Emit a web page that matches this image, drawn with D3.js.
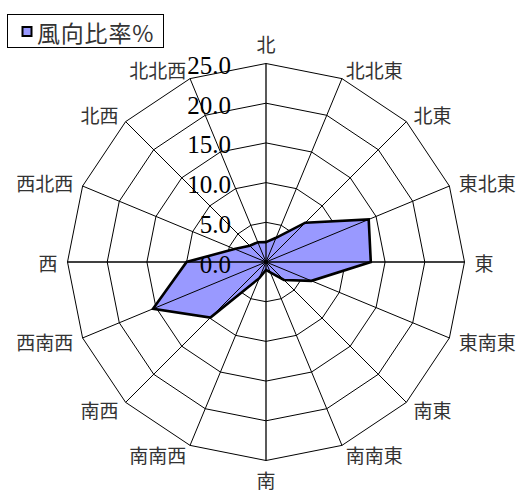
<!DOCTYPE html>
<html>
<head>
<meta charset="utf-8">
<script src="https://cdn.jsdelivr.net/npm/d3@7"></script>
<style>
  html, body { margin: 0; padding: 0; background: #fff; }
  svg { display: block; }
</style>
</head>
<body>
<svg id="chart" width="523" height="492"></svg>
<script>
// Wind direction share (%) for the 16 compass points, clockwise from north
const directions = ["北", "北北東", "北東", "東北東", "東", "東南東", "南東", "南南東",
                    "南", "南南西", "南西", "西南西", "西", "西北西", "北西", "北北西"];
const windShare = [2.5, 3.3, 7.0, 14.0, 13.2, 6.2, 3.2, 1.4,
                   1.0, 2.2, 9.9, 15.4, 10.0, 4.3, 2.9, 2.7];
const tickValues = [0, 5, 10, 15, 20, 25];
const seriesName = "風向比率%";

const width = 523, height = 492;
const cx = 266, cy = 262;
const fillColor = "#9999FF";

const svg = d3.select("#chart");

const r = d3.scaleLinear().domain([0, 25]).range([0, 198.5]);
const angle = d3.scaleLinear().domain([0, directions.length]).range([0, 2 * Math.PI]);

const pt = (i, v) => {
  const a = angle(i);
  return [cx + r(v) * Math.sin(a), cy - r(v) * Math.cos(a)];
};

const g = svg.append("g");

// Concentric polygon gridlines
const ringLine = d3.line();
g.append("g").selectAll("path")
  .data(tickValues.filter(v => v > 0))
  .join("path")
  .attr("d", v => ringLine(directions.map((d, i) => pt(i, v))) + "Z")
  .attr("fill", "none")
  .attr("stroke", "#000")
  .attr("stroke-width", 1);

// Data polygon
g.append("path")
  .datum(windShare)
  .attr("d", vals => d3.line()(vals.map((v, i) => pt(i, v))) + "Z")
  .attr("fill", fillColor)
  .attr("stroke", "#000")
  .attr("stroke-width", 2.6)
  .attr("stroke-linejoin", "miter");

// Spokes
g.append("g").selectAll("line")
  .data(directions)
  .join("line")
  .attr("x1", cx).attr("y1", cy)
  .attr("x2", (d, i) => pt(i, 25)[0])
  .attr("y2", (d, i) => pt(i, 25)[1])
  .attr("stroke", "#000")
  .attr("stroke-width", (d, i) => (i % 4 === 0 ? 1.3 : 1));

// Direction labels
const labelR = r(25) + 10;
g.append("g").selectAll("text")
  .data(directions)
  .join("text")
  .attr("x", (d, i) => cx + labelR * Math.sin(angle(i)))
  .attr("y", (d, i) => {
    const s = Math.sin(angle(i)), c = Math.cos(angle(i));
    const y = cy - labelR * c;
    if (Math.abs(s) < 1e-6) return c > 0 ? y - 10 : y + 9;
    return y;
  })
  .attr("text-anchor", (d, i) => {
    const s = Math.sin(angle(i));
    return Math.abs(s) < 1e-6 ? "middle" : (s > 0 ? "start" : "end");
  })
  .attr("dominant-baseline", "central")
  .attr("font-family", "'Noto Sans CJK JP', sans-serif")
  .attr("font-size", 19)
  .attr("fill", "#333")
  .text(d => d);

// Radial tick labels along the north axis
const fmt = d3.format(".1f");
g.append("g").selectAll("text")
  .data(tickValues)
  .join("text")
  .attr("x", 231)
  .attr("y", v => cy - r(v) + 2)
  .attr("text-anchor", "end")
  .attr("dominant-baseline", "central")
  .attr("font-family", "'Liberation Serif', 'DejaVu Serif', serif")
  .attr("font-size", 25)
  .attr("fill", "#000")
  .text(v => fmt(v));

// Legend
const legend = svg.append("g");
legend.append("rect")
  .attr("x", 7.5).attr("y", 14.5)
  .attr("width", 156).attr("height", 33)
  .attr("fill", "#fff")
  .attr("stroke", "#000")
  .attr("stroke-width", 1);
legend.append("rect")
  .attr("x", 22.5).attr("y", 27)
  .attr("width", 9).attr("height", 9)
  .attr("fill", fillColor)
  .attr("stroke", "#000")
  .attr("stroke-width", 2);
legend.append("text")
  .attr("x", 37).attr("y", 32)
  .attr("dominant-baseline", "central")
  .attr("font-family", "'Noto Sans CJK JP', sans-serif")
  .attr("font-size", 23)
  .attr("letter-spacing", 0.8)
  .attr("fill", "#333")
  .text(seriesName);
</script>
</body>
</html>
